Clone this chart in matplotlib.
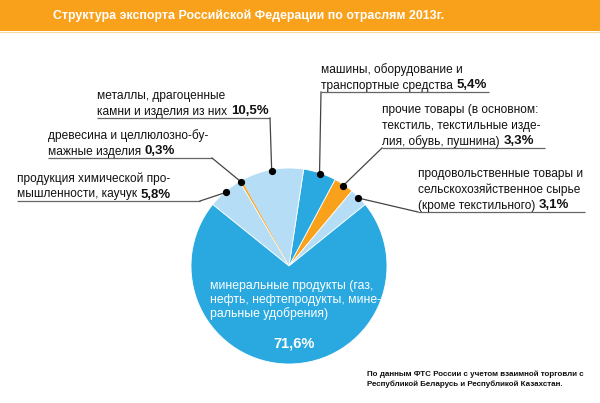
import numpy as np
import matplotlib
matplotlib.use('Agg')
import matplotlib.pyplot as plt

plt.rcParams['font.family'] = ['Liberation Sans', 'DejaVu Sans']

#%% data

title = 'Структура экспорта Российской Федерации по отраслям 2013г.'

# order as drawn, going round from the right-hand side
shares = [3.1, 3.3, 5.4, 10.5, 0.3, 5.8, 71.6]
label_lines = [
    ['продовольственные товары и', 'сельскохозяйственное сырье', '(кроме текстильного)'],
    ['прочие товары (в основном:', 'текстиль, текстильные изде-', 'лия, обувь, пушнина)'],
    ['машины, оборудование и', 'транспортные средства'],
    ['металлы, драгоценные', 'камни и изделия из них'],
    ['древесина и целлюлозно-бу-', 'мажные изделия'],
    ['продукция химической про-', 'мышленности, каучук'],
    ['минеральные продукты (газ,', 'нефть, нефтепродукты, мине-', 'ральные удобрения)'],
]
note_lines = ['По данным ФТС России с учетом взаимной торговли с',
              'Республикой Беларусь и Республикой Казахстан.']

#%% style

c_blue = '#29a9e0'
c_light = '#b5def6'
c_orange = '#f9a11b'
colors = [c_light, c_orange, c_blue, c_light, c_orange, c_light, c_blue]

# callout layout in pixels: text left x, underline y, underline right x, side where the leader starts
callouts = [
    (418, 212, 585, 'left'),
    (382, 148, 545, 'left'),
    (321, 92, 489, 'left'),
    (97, 118, 270, 'right'),
    (48, 158, 212, 'right'),
    (17, 201, 200, 'right'),
]
line_step = 15.5
fs_lab = 8.6

def pct(v):
    return ('%.1f%%' % v).replace('.', ',')

#%% figure

fig = plt.figure(figsize=(6.0, 4.03), dpi=100)
ax = fig.add_axes([0, 0, 1, 1])

cx, cy, R = 289, 266, 98
wedges, _ = ax.pie(shares, colors=colors, startangle=-38.9, counterclock=False,
                   center=(cx, cy), radius=R,
                   wedgeprops=dict(edgecolor='white', linewidth=0.6))
# the thin wood slice would vanish under white edges
wedges[4].set_edgecolor(c_orange)
wedges[4].set_linewidth(0.5)

ax.set_xlim(0, 600)
ax.set_ylim(403, 0)
ax.set_aspect('equal')
ax.axis('off')

# header bar
ax.add_patch(plt.Rectangle((0, 0), 600, 31, facecolor=c_orange, edgecolor='none'))
ax.plot([0, 600], [31.5, 31.5], color='#fcd9a0', lw=0.8)
ax.text(249, 16, title, color='white', fontsize=8.9, fontweight='bold',
        ha='center', va='center')

# callouts
for k in range(len(callouts)):
    x0, uy, x1, side = callouts[k]
    lines = label_lines[k]
    n = len(lines)
    for i, s in enumerate(lines):
        yb = uy - 3.5 - (n - 1 - i) * line_step
        t = ax.text(x0, yb, s, fontsize=fs_lab,
                    ha='left', va='baseline', color='#111111')
        if i == n - 1:
            ax.annotate(pct(shares[k]), xy=(1, 0), xycoords=t, xytext=(2.6, 0),
                        textcoords='offset points', fontsize=fs_lab + 0.9,
                        fontweight='bold', ha='left', va='bottom', color='#111111')

    w = wedges[k]
    th = np.deg2rad((w.theta1 + w.theta2) / 2)
    dx = cx + 0.99 * R * np.cos(th)
    dy = cy + 0.99 * R * np.sin(th)
    xs = x0 if side == 'left' else x1
    ax.plot([x0, x1], [uy, uy], color='#666666', lw=0.9, solid_capstyle='butt')
    ax.plot([xs, dx], [uy, dy], color='#444444', lw=0.9)
    ax.plot(dx, dy, 'o', color='black', ms=4.2, zorder=5)

# big slice label
for i, s in enumerate(label_lines[-1]):
    ax.text(210, 289 + i * 14, s, color='white', fontsize=8.8,
            ha='left', va='baseline')
ax.text(294, 347, pct(shares[-1]), color='white', fontsize=10.5,
        fontweight='bold', ha='center', va='baseline')

# source note
for i, s in enumerate(note_lines):
    ax.text(367, 376 + i * 9.5, s, fontsize=5.8, fontweight='bold',
            ha='left', va='baseline', color='#111111')

fig.savefig('out.png', dpi=100)
